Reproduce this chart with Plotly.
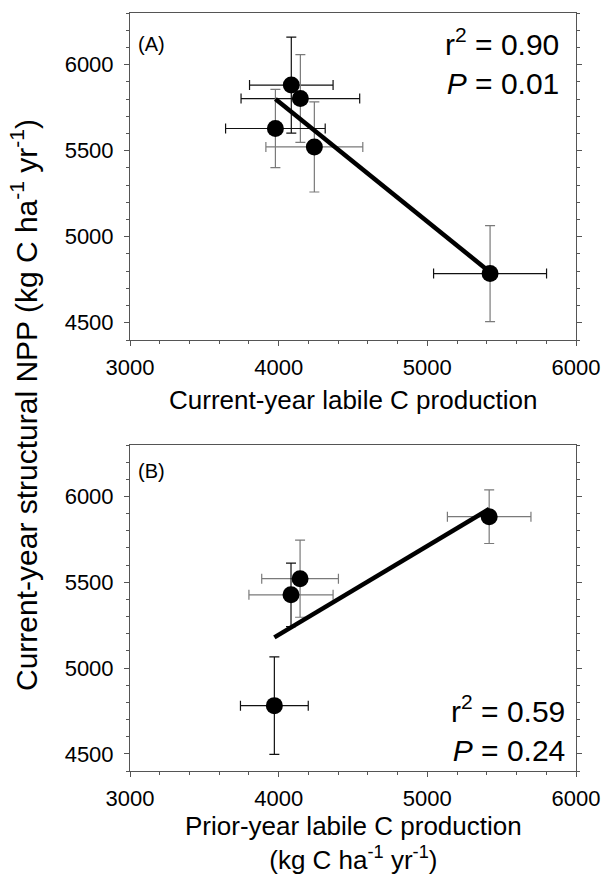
import numpy as np
import plotly.graph_objects as go

# ---- data ----
top_x = [4085, 4146, 3978, 4240, 5422]
top_xerr = [281, 399, 335, 326, 380]
top_y = [5881, 5803, 5629, 5522, 4786]
top_yerr = [279, 255, 227, 262, 279]
top_xerr_col = ["k", "k", "k", "g", "k"]
top_yerr_col = ["k", "g", "g", "g", "g"]

bot_x = [5416, 4144, 4083, 3971]
bot_xerr = [281, 258, 283, 228]
bot_y = [5882, 5521, 5427, 4781]
bot_yerr = [156, 225, 185, 284]
bot_xerr_col = ["g", "g", "g", "k"]
bot_yerr_col = ["g", "g", "k", "k"]

x_ticks = [3000, 4000, 5000, 6000]
y_ticks = [4500, 5000, 5500, 6000]
x_range = [3000, 6000]
y_range = [4400, 6300]

stats_top = "r<sup>2</sup> = 0.90<br><i>P</i> = 0.01"
stats_bot = "r<sup>2</sup> = 0.59<br><i>P</i> = 0.24"

FONT = "Liberation Sans, Arial, sans-serif"
COL = {"k": "#111111", "g": "#7a7a7a"}
AX = "#555555"

W, H = 603, 874
def px(v):
    return v / W
def py(v):
    return 1 - v / H

fig = go.Figure()

def add_panel(xs, xe, ys, ye, xc, yc, xa, ya):
    for i in range(len(xs)):
        fig.add_trace(go.Scatter(
            x=[xs[i]], y=[ys[i]], xaxis=xa, yaxis=ya, mode="markers",
            marker=dict(size=17, color="black"),
            error_x=dict(type="data", array=[xe[i]], color=COL[xc[i]], thickness=1.2, width=5),
            error_y=dict(type="data", array=[ye[i]], color=COL[yc[i]], thickness=1.2, width=5),
            showlegend=False, hoverinfo="skip"))
    m, b = np.polyfit(xs, ys, 1)
    lx = [min(xs), max(xs)]
    fig.add_trace(go.Scatter(x=lx, y=[m * v + b for v in lx], xaxis=xa, yaxis=ya,
                             mode="lines", line=dict(color="black", width=4.5),
                             showlegend=False, hoverinfo="skip"))

add_panel(top_x, top_xerr, top_y, top_yerr, top_xerr_col, top_yerr_col, "x", "y")
add_panel(bot_x, bot_xerr, bot_y, bot_yerr, bot_xerr_col, bot_yerr_col, "x2", "y2")

xdom = [px(130), px(576)]
common_x = dict(range=x_range, tickvals=x_ticks, ticks="outside", ticklen=5, tickwidth=1,
                tickcolor=AX, showline=True, linecolor=AX, linewidth=1, mirror=True,
                showgrid=False, zeroline=False, automargin=False, ticklabelstandoff=3,
                tickfont=dict(family=FONT, size=22, color="black"),
                minor=dict(dtick=200, ticks="outside", ticklen=3, tickcolor=AX, showgrid=False))
common_y = dict(range=y_range, tickvals=y_ticks, ticks="outside", ticklen=5, tickwidth=1,
                tickcolor=AX, showline=True, linecolor=AX, linewidth=1, mirror="ticks",
                showgrid=False, zeroline=False, automargin=False, ticklabelstandoff=6,
                tickfont=dict(family=FONT, size=22, color="black"),
                minor=dict(dtick=100, ticks="outside", ticklen=3, tickcolor=AX, showgrid=False))

fig.update_layout(
    width=W, height=H, margin=dict(l=0, r=0, t=0, b=0, autoexpand=False),
    paper_bgcolor="white", plot_bgcolor="white",
    xaxis=dict(domain=xdom, anchor="y", **common_x),
    yaxis=dict(domain=[py(340), py(13)], anchor="x", **common_y),
    xaxis2=dict(domain=xdom, anchor="y2", **common_x),
    yaxis2=dict(domain=[py(771), py(445)], anchor="x2", **common_y),
    font=dict(family=FONT, color="black"),
)

ann = [
    dict(text="(A)", x=px(136), y=py(44), xanchor="left", yanchor="middle", font=dict(size=20)),
    dict(text="(B)", x=px(136), y=py(471), xanchor="left", yanchor="middle", font=dict(size=20)),
    dict(text=stats_top, x=px(561), y=py(62), xanchor="right", yanchor="middle", align="right",
         font=dict(size=30)),
    dict(text=stats_bot, x=px(567), y=py(728), xanchor="right", yanchor="middle", align="right",
         font=dict(size=30)),
    dict(text="Current-year labile C production", x=px(353), y=py(400), xanchor="center",
         yanchor="middle", font=dict(size=26)),
    dict(text="Prior-year labile C production<br>(kg C ha<sup>-1</sup> yr<sup>-1</sup>)",
         x=px(353), y=py(843), xanchor="center", yanchor="middle", font=dict(size=26)),
    dict(text="Current-year structural NPP (kg C ha<sup>-1</sup> yr<sup>-1</sup>)",
         x=px(24), y=py(405), xanchor="center", yanchor="middle", textangle=-90,
         font=dict(size=30)),
]
for a in ann:
    a.update(xref="paper", yref="paper", showarrow=False)
    a["font"] = dict(family=FONT, color="black", **a["font"])
fig.update_layout(annotations=ann)

fig.write_html("out.html")
